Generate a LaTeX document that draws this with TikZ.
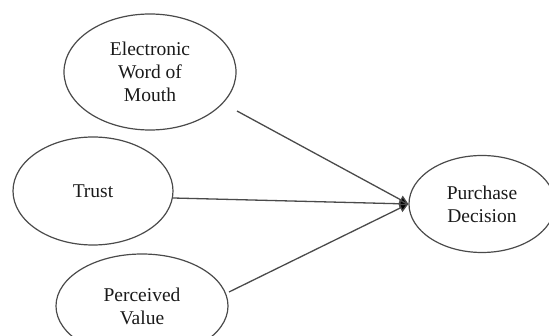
\documentclass[tikz,border=0pt]{standalone}
\usepackage{fontspec}
\setmainfont{Liberation Serif}
\usetikzlibrary{shapes.geometric,arrows.meta}
\definecolor{linegray}{HTML}{4A4A4A}
\definecolor{textdark}{HTML}{1A1A1A}
\tikzset{
  construct/.style={ellipse, draw=linegray, line width=1.2pt, inner sep=0pt,
    align=center, text=textdark, font=\fontsize{19.5}{23}\selectfont},
  path/.style={draw=linegray, line width=1.3pt, -{Triangle[length=9pt,width=9pt,fill=black]}}
}
\begin{document}
\begin{tikzpicture}[x=1pt,y=-1pt]
\useasboundingbox (0,0) rectangle (549,336);
\clip (0,0) rectangle (549,336);
\node[construct, minimum width=172pt, minimum height=116pt] (ewom) at (150,72) {Electronic\\Word of\\Mouth};
\node[construct, minimum width=160pt, minimum height=108pt] (trust) at (93,191) {Trust};
\node[construct, minimum width=172pt, minimum height=104pt] (pv) at (142,306) {Perceived\\Value};
\node[construct, minimum width=146pt, minimum height=97pt] (pd) at (482,204) {Purchase\\Decision};
\coordinate (s1) at (237,111);
\coordinate (s2) at (173,198);
\coordinate (s3) at (229,292);
\draw[path] (s1) -- (pd.west);
\draw[path] (s2) -- (pd.west);
\draw[path] (s3) -- (pd.west);
\end{tikzpicture}
\end{document}
